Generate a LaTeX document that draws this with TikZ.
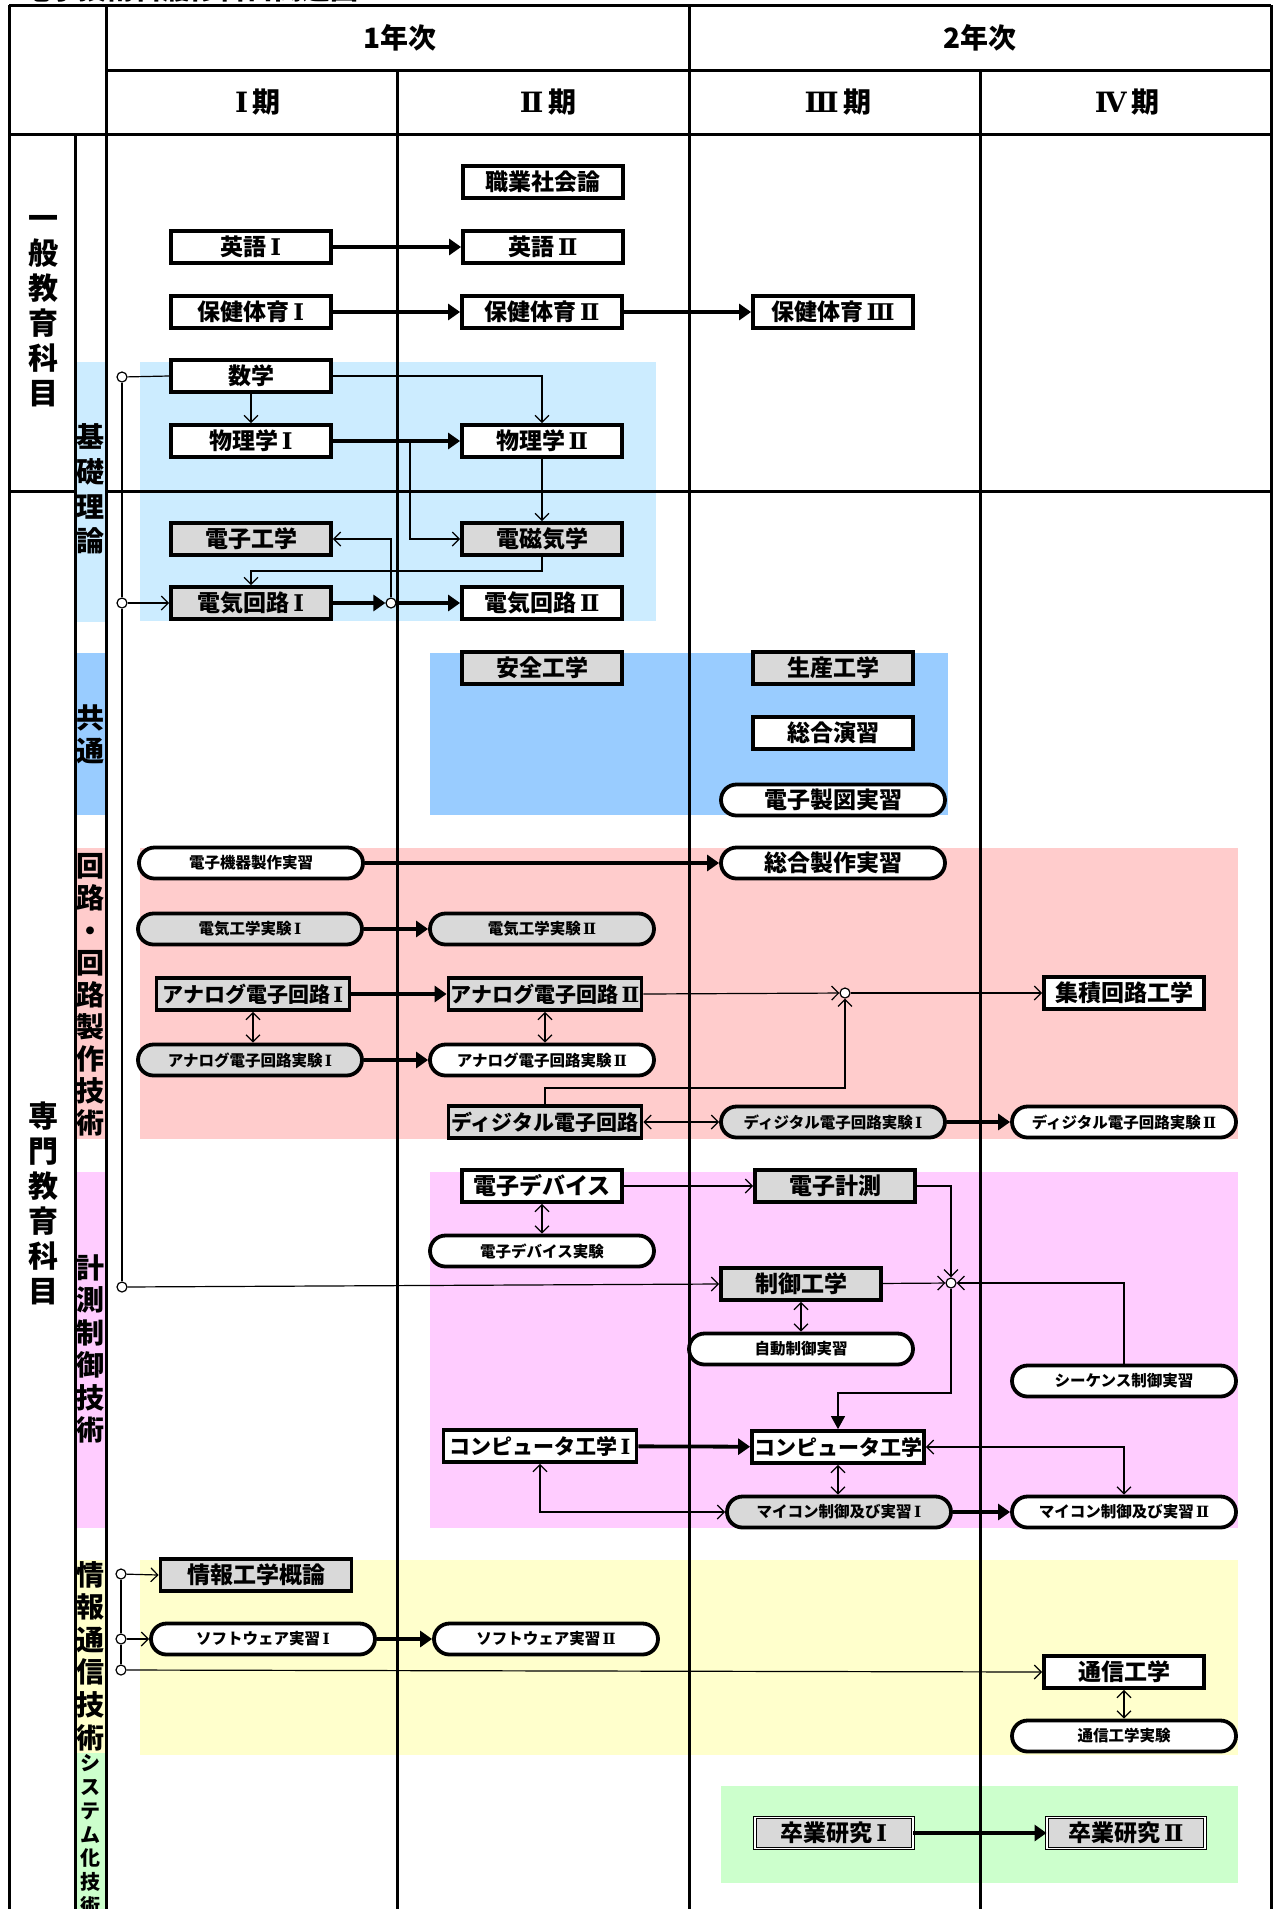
\documentclass[tikz,border=0pt]{standalone}
\usepackage{fontspec}
\setmainfont{Noto Sans CJK JP}
\newfontfamily\rmn{DejaVu Serif}
\newcommand{\RI}{\kern0.15em{\rmn\bfseries Ⅰ}}
\newcommand{\RII}{\kern0.15em{\rmn\bfseries Ⅱ}}
\newcommand{\RIII}{\kern0.15em{\rmn\bfseries Ⅲ}}
\newcommand{\RIV}{\kern0.15em{\rmn\bfseries Ⅳ}}
\usetikzlibrary{arrows.meta,shapes.misc}
\definecolor{cKiso}{HTML}{CCECFF}
\definecolor{cKyo}{HTML}{99CCFF}
\definecolor{cKai}{HTML}{FFCCCC}
\definecolor{cKei}{HTML}{FFCCFF}
\definecolor{cJoh}{HTML}{FFFFCC}
\definecolor{cSys}{HTML}{CCFFCC}
\definecolor{boxgray}{HTML}{D9D9D9}
\tikzset{
 bx/.style={draw, line width=3.8pt, fill=white, minimum width=160pt, minimum height=32pt, inner sep=0pt, font=\bfseries\fontsize{23}{23}\selectfont},
 gbx/.style={bx, fill=boxgray},
 wbx/.style={minimum width=193pt, font=\bfseries\fontsize{21}{21}\selectfont},
 st/.style={draw, rounded rectangle, line width=3.8pt, fill=white, minimum width=224pt, minimum height=31pt, inner sep=0pt, font=\bfseries\fontsize{15.5}{15.5}\selectfont},
 gst/.style={st, fill=boxgray},
 stl/.style={st, font=\bfseries\fontsize{23}{23}\selectfont},
 dbx/.style={draw, double=white, double distance=1.6pt, line width=0.9pt, fill=boxgray, minimum width=158pt, minimum height=31pt, inner sep=0pt, font=\bfseries\fontsize{23}{23}\selectfont},
 jc/.style={circle, draw, line width=1.2pt, fill=white, minimum size=10pt, inner sep=0pt},
 ln/.style={line width=1.2pt},
 ar/.style={ln, -{Straight Barb[length=7pt,width=14pt]}},
 dar/.style={ln, {Straight Barb[length=7pt,width=14pt]}-{Straight Barb[length=7pt,width=14pt]}},
 far/.style={ln, -{Triangle[length=13pt,width=14pt]}},
 tk/.style={line width=3.8pt, -{Triangle[length=12pt,width=16pt]}},
 tbl/.style={line width=3pt},
 head/.style={font=\bfseries\fontsize{28}{28}\selectfont, inner sep=0pt},
 vlab/.style={align=center, inner sep=0pt, font=\bfseries\fontsize{28}{33}\selectfont},
}
\begin{document}
\begin{tikzpicture}[x=1pt,y=-1pt]
\fill[white] (0,0) rectangle (1274,1909);
\useasboundingbox (0,0) rectangle (1274,1909);
% title (cut off at top)
\node[anchor=base west, inner sep=0pt, font=\bfseries\fontsize{28}{28}\selectfont] (title) at (22,-1) {電子技術科履修科目関連図};
% background regions
\fill[cKiso] (140,362) rectangle (656,621);
\fill[cKyo] (430,653) rectangle (948,815);
\fill[cKai] (140,848) rectangle (1238,1139);
\fill[cKei] (430,1172) rectangle (1238,1528);
\fill[cJoh] (140,1560) rectangle (1238,1755);
\fill[cSys] (721,1786) rectangle (1238,1883);
% sub-category column backgrounds
\fill[cKiso] (75,362) rectangle (106,622);
\fill[cKyo] (75,653) rectangle (106,815);
\fill[cKai] (75,848) rectangle (106,1139);
\fill[cKei] (75,1172) rectangle (106,1528);
\fill[cJoh] (75,1560) rectangle (106,1753);
\fill[cSys] (75,1753) rectangle (106,1909);
% table lines
\draw[tbl] (9,5) -- (1271,5);
\draw[tbl] (106,70) -- (1271,70);
\draw[tbl] (9,134) -- (1271,134);
\draw[tbl] (9,491) -- (75,491);
\draw[tbl] (106,491) -- (1271,491);
\draw[tbl] (9,5) -- (9,1909);
\draw[tbl] (1271,5) -- (1271,1909);
\draw[tbl] (106,5) -- (106,1909);
\draw[tbl] (75,134) -- (75,1909);
\draw[tbl] (397,70) -- (397,1909);
\draw[tbl] (689,5) -- (689,1909);
\draw[tbl] (980,70) -- (980,1909);
% headers
\node[head] (y1) at (400,38) {1年次};
\node[head] (y2) at (980,38) {2年次};
\node[head] (p1) at (256,102) {\RI\,期};
\node[head] (p2) at (546,102) {\RII\,期};
\node[head] (p3) at (836,102) {\RIII\,期};
\node[head] (p4) at (1125,102) {\RIV\,期};
% category labels
\node[vlab, font=\bfseries\fontsize{30}{35}\selectfont] (catA) at (43,311) {一\\般\\教\\育\\科\\目};
\node[vlab, font=\bfseries\fontsize{30}{35}\selectfont] (catB) at (43,1203) {専\\門\\教\\育\\科\\目};
\node[vlab, font=\bfseries\fontsize{28}{34.7}\selectfont] (lKiso) at (90,489) {基\\礎\\理\\論};
\node[vlab] (lKyo) at (90,734) {共\\通};
\node[vlab, font=\bfseries\fontsize{28}{32.1}\selectfont] (lKai) at (90,995) {回\\路\\・\\回\\路\\製\\作\\技\\術};
\node[vlab, font=\bfseries\fontsize{28}{32.4}\selectfont] (lKei) at (90,1349) {計\\測\\制\\御\\技\\術};
\node[vlab, font=\bfseries\fontsize{28}{32.6}\selectfont] (lJoh) at (90,1656) {情\\報\\通\\信\\技\\術};
\node[vlab, font=\bfseries\fontsize{20}{23.8}\selectfont] (lSys) at (90,1835) {シ\\ス\\テ\\ム\\化\\技\\術};
% course nodes
\node[bx] (shoku) at (543,182) {職業社会論};
\node[bx] (eigo1) at (251,247) {英語\RI};
\node[bx] (eigo2) at (543,247) {英語\RII};
\node[bx] (hoken1) at (251,312) {保健体育\RI};
\node[bx] (hoken2) at (542,312) {保健体育\RII};
\node[bx] (hoken3) at (833,312) {保健体育\RIII};
\node[bx] (sugaku) at (251,376) {数学};
\node[bx] (butsu1) at (251,441) {物理学\RI};
\node[bx] (butsu2) at (542,441) {物理学\RII};
\node[gbx] (denshi) at (251,539) {電子工学};
\node[gbx] (denji) at (542,539) {電磁気学};
\node[gbx] (kairo1) at (251,603) {電気回路\RI};
\node[bx] (kairo2) at (542,603) {電気回路\RII};
\node[gbx] (anzen) at (542,668) {安全工学};
\node[gbx] (seisan) at (833,668) {生産工学};
\node[bx] (sogoen) at (833,733) {総合演習};
\node[stl] (seizu) at (833,800) {電子製図実習};
\node[st] (kiki) at (251,863) {電子機器製作実習};
\node[stl] (sogosei) at (833,863) {総合製作実習};
\node[gst] (jikken1) at (250,929) {電気工学実験\RI};
\node[gst] (jikken2) at (542,929) {電気工学実験\RII};
\node[gbx, wbx] (ana1) at (253,994) {アナログ電子回路\RI};
\node[gbx, wbx] (ana2) at (545,994) {アナログ電子回路\RII};
\node[gst] (anaj1) at (250,1060) {アナログ電子回路実験\RI};
\node[st] (anaj2) at (542,1060) {アナログ電子回路実験\RII};
\node[gbx, wbx] (digi) at (545,1122) {ディジタル電子回路};
\node[gst] (digij1) at (833,1122) {ディジタル電子回路実験\RI};
\node[st] (digij2) at (1124,1122) {ディジタル電子回路実験\RII};
\node[bx] (shuseki) at (1124,993) {集積回路工学};
\node[bx] (device) at (542,1186) {電子デバイス};
\node[st] (devj) at (542,1251) {電子デバイス実験};
\node[gbx] (keisoku) at (835,1186) {電子計測};
\node[gbx] (seigyo) at (801,1284) {制御工学};
\node[st] (jido) at (801,1349) {自動制御実習};
\node[st] (seq) at (1124,1381) {シーケンス制御実習};
\node[bx, wbx] (comp1) at (540,1446) {コンピュータ工学\RI};
\node[bx, minimum width=172pt, font=\bfseries\fontsize{21}{21}\selectfont] (comp) at (838,1447) {コンピュータ工学};
\node[gst] (mic1) at (839,1512) {マイコン制御及び実習\RI};
\node[st] (mic2) at (1124,1512) {マイコン制御及び実習\RII};
\node[gbx, minimum width=191pt] (joho) at (256,1575) {情報工学概論};
\node[st] (soft1) at (263,1639) {ソフトウェア実習\RI};
\node[st] (soft2) at (546,1639) {ソフトウェア実習\RII};
\node[bx] (tsushin) at (1124,1672) {通信工学};
\node[st] (tsushinj) at (1124,1736) {通信工学実験};
\node[dbx] (sotsu1) at (834,1833) {卒業研究\RI};
\node[dbx] (sotsu2) at (1126,1833) {卒業研究\RII};
% junctions
\node[jc] (jA) at (122,377) {};
\node[jc] (jB) at (122,603) {};
\node[jc] (jC) at (122,1287) {};
\node[jc] (jD) at (391,603) {};
\node[jc] (jE) at (845,993) {};
\node[jc] (jF) at (951,1283) {};
\node[jc] (jG) at (121,1574) {};
\node[jc] (jH) at (121,1639) {};
\node[jc] (jI) at (121,1670) {};
\coordinate (b1) at (410,441);
\coordinate (c1) at (542,571);
\coordinate (d1) at (845,1088);
\coordinate (f1) at (951,1393);
% connectors
\draw[tk] (eigo1) -- (eigo2);
\draw[tk] (hoken1) -- (hoken2);
\draw[tk] (hoken2) -- (hoken3);
\draw[ln] (jA) -- (sugaku.west);
\draw[ln] (jA) -- (jB);
\draw[ln] (jB) -- (jC);
\draw[ar] (sugaku) -- (butsu1);
\draw[ar] (sugaku.east) -| (butsu2.north);
\draw[tk] (butsu1) -- (butsu2);
\draw[ar] (b1) |- (denji.west);
\draw[ar] (butsu2) -- (denji);
\draw[ar] (denji.south) -- (c1) -| (kairo1.north);
\draw[ar] (jB) -- (kairo1.west);
\draw[tk] (kairo1) -- (jD);
\draw[tk] (jD) -- (kairo2);
\draw[ar] (jD) |- (denshi.east);
\draw[ar] (jC) -- (seigyo.west);
\draw[tk] (kiki) -- (sogosei);
\draw[tk] (jikken1) -- (jikken2);
\draw[tk] (ana1) -- (ana2);
\draw[tk] (anaj1) -- (anaj2);
\draw[dar] (ana1.south) -- (ana1.south |- anaj1.north);
\draw[dar] (ana2.south) -- (ana2.south |- anaj2.north);
\draw[ar] (ana2.east) -- (jE);
\draw[ar] (digi.north) |- (d1) -- (jE);
\draw[ar] (jE) -- (shuseki);
\draw[dar] (digi) -- (digij1);
\draw[tk] (digij1) -- (digij2);
\draw[ar] (device) -- (keisoku);
\draw[dar] (device) -- (devj);
\draw[ar] (keisoku.east) -| (jF);
\draw[ar] (seigyo) -- (jF);
\draw[ar] (seq.north) |- (jF);
\draw[far] (jF) -- (f1) -| (comp.north);
\draw[dar] (seigyo) -- (jido);
\draw[tk] (comp1) -- (comp);
\draw[dar] (comp.south) -- (comp.south |- mic1.north);
\draw[dar] (comp.east) -| (mic2.north);
\draw[dar] (comp1.south) |- (mic1.west);
\draw[tk] (mic1) -- (mic2);
\draw[ln] (jG) -- (jH);
\draw[ln] (jH) -- (jI);
\draw[ar] (jG) -- (joho.west);
\draw[ar] (jH) -- (soft1.west);
\draw[ar] (jI) -- (tsushin.west);
\draw[tk] (soft1) -- (soft2);
\draw[dar] (tsushin) -- (tsushinj);
\draw[tk] (sotsu1) -- (sotsu2);
\end{tikzpicture}
\end{document}
